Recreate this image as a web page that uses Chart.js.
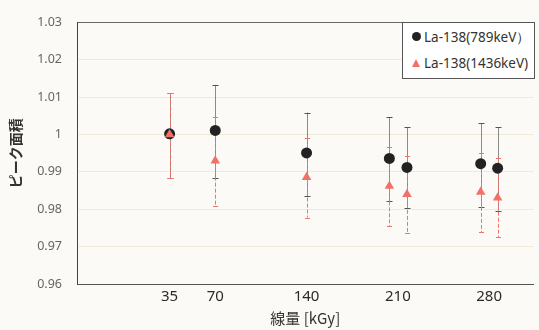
<!DOCTYPE html>
<html><head><meta charset="utf-8">
<script src="https://cdn.jsdelivr.net/npm/chart.js@4.4.0/dist/chart.umd.min.js"></script>
<style>
html,body{margin:0;padding:0;background:#fbfaf6;}
#wrap{position:relative;width:539px;height:330px;overflow:hidden;}
#legend{position:absolute;left:402px;top:22px;width:133px;height:57px;border:1px solid #555;background:#fff;font-family:"Noto Sans",sans-serif;font-size:13.5px;color:#333;box-sizing:border-box;}
.row{position:absolute;left:0;height:18px;line-height:18px;white-space:nowrap;}
.row span.txt{position:absolute;left:21px;top:0;}
.mk{position:absolute;}
.circ{left:9px;top:4px;width:9px;height:9px;border-radius:50%;}
.tri{left:9px;top:5px;width:0;height:0;border-left:4px solid transparent;border-right:4px solid transparent;}
</style></head>
<body>
<div id="wrap">
<canvas id="c" width="539" height="330"></canvas>
<div id="legend"></div>
</div>
<script>
const doseX = [35, 70, 140, 203.5, 217, 273.5, 286.5];
const xTickValues = [35, 70, 140, 210, 280];
const yTickValues = [0.96, 0.97, 0.98, 0.99, 1.00, 1.01, 1.02, 1.03];
const yTickLabels = ['0.96', '0.97', '0.98', '0.99', '1', '1.01', '1.02', '1.03'];

const label789 = 'La-138(789keV）';
const peak789   = [1.0002, 1.0011, 0.9951, 0.9936, 0.9912, 0.9922, 0.9910];
const peak789Hi = [1.0111, 1.0133, 1.0059, 1.0046, 1.0019, 1.0030, 1.0019];
const peak789Lo = [0.9883, 0.9883, 0.9835, 0.9822, 0.9804, 0.9807, 0.9796];

const label1436 = 'La-138(1436keV)';
const peak1436   = [1.0000, 0.9930, 0.9886, 0.9862, 0.9840, 0.9846, 0.9831];
const peak1436Hi = [1.0111, 1.0048, 0.9992, 0.9966, 0.9943, 0.9951, 0.9938];
const peak1436Lo = [0.9883, 0.9810, 0.9778, 0.9755, 0.9737, 0.9739, 0.9726];

const blackCol = '#222222';
const redCol = 'rgb(242,112,104)';

function pts(ys){ return doseX.map((x,i)=>({x:x, y:ys[i]})); }

const errorBars = {
  id:'errorBars',
  beforeDatasetsDraw(chart){
    const ctx = chart.ctx, xs = chart.scales.x, ys = chart.scales.y;
    const sets = [
      {hi:peak789Hi, lo:peak789Lo, color:'#8a8a8a', capColor:'#555', dash:[], cap:3},
      {hi:peak1436Hi, lo:peak1436Lo, color:'rgb(240,115,105)', capColor:'rgb(240,115,105)', dash:[4,2], cap:2.5}
    ];
    ctx.save();
    sets.forEach(s=>{
      ctx.lineWidth = 1;
      doseX.forEach((xv,i)=>{
        const x = Math.round(xs.getPixelForValue(xv))+0.5;
        const yh = ys.getPixelForValue(s.hi[i]);
        const yl = ys.getPixelForValue(s.lo[i]);
        ctx.strokeStyle = s.color;
        ctx.setLineDash(s.dash);
        ctx.beginPath(); ctx.moveTo(x,yh); ctx.lineTo(x,yl); ctx.stroke();
        ctx.setLineDash([]);
        ctx.strokeStyle = s.capColor;
        ctx.beginPath();
        ctx.moveTo(x-s.cap,Math.round(yh)+0.5); ctx.lineTo(x+s.cap,Math.round(yh)+0.5);
        ctx.moveTo(x-s.cap,Math.round(yl)+0.5); ctx.lineTo(x+s.cap,Math.round(yl)+0.5);
        ctx.stroke();
      });
    });
    ctx.restore();
  }
};

const chart = new Chart(document.getElementById('c'), {
  type:'scatter',
  data:{datasets:[
    {label:label789, data:pts(peak789), pointStyle:'circle', pointRadius:5.5, backgroundColor:blackCol, borderColor:blackCol, borderWidth:0, order:2},
    {label:label1436, data:pts(peak1436), pointStyle:'triangle', pointRadius:5.5, backgroundColor:redCol, borderColor:redCol, borderWidth:0, order:1}
  ]},
  options:{
    responsive:false, animation:false, devicePixelRatio:1,
    layout:{padding:0},
    plugins:{legend:{display:false}, tooltip:{enabled:false}},
    scales:{
      x:{type:'linear', position:'bottom', min:-36, max:314,
        afterBuildTicks:s=>{s.ticks = xTickValues.map(v=>({value:v}));},
        afterFit:s=>{s.height = 46;},
        grid:{display:false, drawTicks:false},
        border:{display:true, color:'#555', width:1},
        ticks:{padding:4, color:'#2a2a2a', font:{family:'"Noto Sans", sans-serif', size:15}, maxRotation:0, autoSkip:false},
        title:{display:true, text:'線量 [kGy]', color:'#333', font:{family:'"Noto Sans CJK JP", sans-serif', size:15, weight:'normal'}, padding:{top:0,bottom:3}}
      },
      x2:{type:'linear', position:'top', min:-36, max:314,
        afterFit:s=>{s.height = 17;},
        grid:{display:false, drawTicks:false},
        border:{display:true, color:'#666', width:1},
        ticks:{display:false}
      },
      y:{type:'linear', position:'left', min:0.96, max:1.03,
        afterBuildTicks:s=>{s.ticks = yTickValues.map(v=>({value:v}));},
        afterFit:s=>{s.width = 77;},
        grid:{display:true, color:'rgba(228,218,170,0.45)', drawTicks:false},
        border:{display:true, color:'#444', width:1},
        ticks:{padding:15, color:'#666', font:{family:'"Noto Sans", sans-serif', size:12.5},
          callback:(v)=>{const i = yTickValues.findIndex(t=>Math.abs(t-v)<1e-9); return i>=0 ? yTickLabels[i] : '';}},
        title:{display:true, text:'ピーク面積', color:'#333', font:{family:'"Noto Sans CJK JP", sans-serif', size:14, weight:'bold'}, padding:{top:7,bottom:0}}
      }
    }
  },
  plugins:[errorBars]
});

// HTML legend built from dataset labels
const lg = document.getElementById('legend');
chart.data.datasets.forEach((ds,i)=>{
  const row = document.createElement('div');
  row.className = 'row';
  row.style.top = (i===0 ? 5 : 31) + 'px';
  const mk = document.createElement('div');
  if(ds.pointStyle==='circle'){ mk.className='mk circ'; mk.style.background = ds.backgroundColor; }
  else { mk.className='mk tri'; mk.style.borderBottom = '8px solid ' + ds.backgroundColor; }
  const t = document.createElement('span'); t.className='txt'; t.textContent = ds.label;
  row.appendChild(mk); row.appendChild(t); lg.appendChild(row);
});
</script>
</body></html>
